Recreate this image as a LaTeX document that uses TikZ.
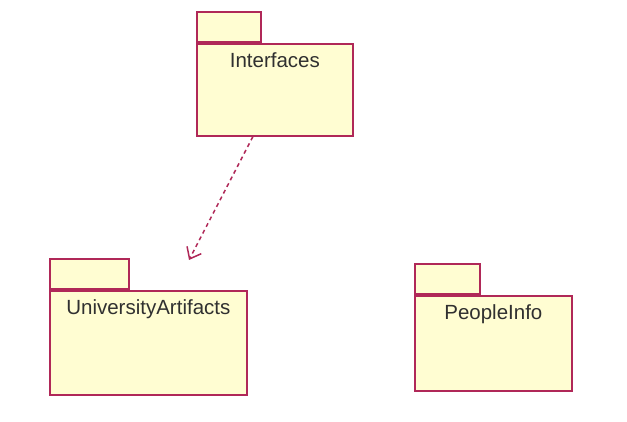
\documentclass[tikz,border=0pt]{standalone}
\usepackage{fontspec}
\setmainfont{Liberation Sans}
\usepackage{tikz}
\usetikzlibrary{arrows.meta,positioning}
\usepackage{xcolor}
\definecolor{pkgline}{HTML}{B02858}
\definecolor{pkgfill}{HTML}{FFFDD2}
\definecolor{pkgtext}{HTML}{303030}
\tikzset{
  pkg/.style    = {rectangle, draw=pkgline, fill=pkgfill, line width=1.7pt,
                   inner sep=0pt, text height=24pt, text=pkgtext,
                   font=\fontsize{20.5}{24}\selectfont},
  pkgtab/.style = {rectangle, draw=pkgline, fill=pkgfill, line width=1.7pt,
                   inner sep=0pt, minimum height=30pt},
  dep/.style    = {-{Straight Barb[length=10pt,width=16pt]}, line width=1.5pt,
                   draw=pkgline, dash pattern=on 4pt off 3.5pt},
}
\begin{document}
\begin{tikzpicture}[x=1pt, y=-1pt]
\useasboundingbox[fill=white] (0,0) rectangle (627,422);

%% Packages
\node[pkg, anchor=north west, minimum width=156pt, text depth=68pt]
  (ifc)  at (196,43)  {Interfaces};
\node[pkg, anchor=north west, minimum width=197pt, text depth=80pt]
  (univ) at (49,290)  {UniversityArtifacts};
\node[pkg, anchor=north west, minimum width=157pt, text depth=71pt]
  (ppl)  at (414,295) {PeopleInfo};

%% Tabs
\node[pkgtab, above right=0pt and 0pt of ifc.north west,  minimum width=64pt] (ifctab)  {};
\node[pkgtab, above right=0pt and 0pt of univ.north west, minimum width=79pt] (univtab) {};
\node[pkgtab, above right=0pt and 0pt of ppl.north west,  minimum width=65pt] (ppltab)  {};

%% Dependency
\coordinate (deptip) at (189,260);
\draw[dep] ([xshift=-22pt]ifc.south) -- (deptip);

\end{tikzpicture}
\end{document}
